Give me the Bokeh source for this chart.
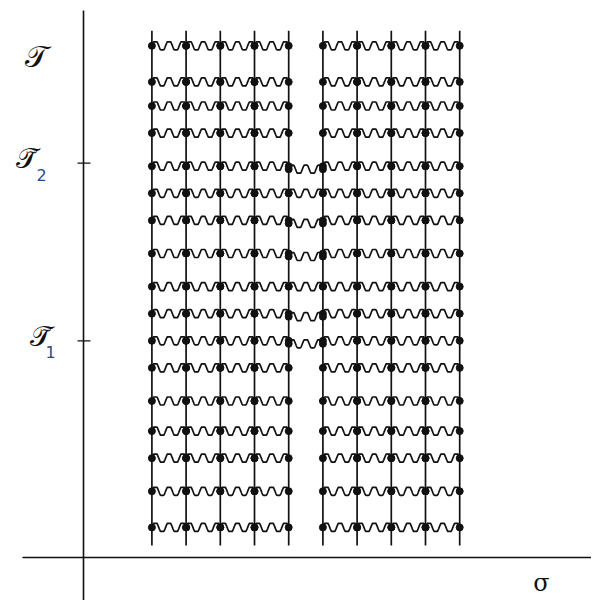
import numpy as np
from bokeh.plotting import figure
from bokeh.models import Range1d
from bokeh.core.properties import value
from bokeh.embed import file_html
from bokeh.resources import INLINE

# ---------------- data ----------------
left_cols = [2, 3, 4, 5, 6]          # sigma positions of the left stack of branes
right_cols = [7, 8, 9, 10, 11]       # sigma positions of the right stack
row_tau = [1.0, 2.2, 3.3, 4.2, 5.2, 6.3, 7.2, 8.1, 9.0, 10.1, 11.2,
           12.1, 13.0, 14.1, 15.0, 15.8, 17.0]   # string rows (tau)
bridge_tau = [7.1, 8.0, 9.0, 10.0, 11.1, 12.1, 12.9]  # strings joining the stacks
tick_tau = [7.2, 13.1]
tick_sub = ["1", "2"]
brane_top = 17.5
brane_bottom = 0.4

# ---------------- layout helpers (pixel <-> data) ----------------
PX_X = 34.2   # px per sigma unit
PX_Y = 30.1   # px per tau unit
X0, Y0 = 83, 557  # pixel position of the origin
def sx(px):
    return (px - X0) / PX_X
def ty(py):
    return (Y0 - py) / PX_Y

W, H = 591, 600
p = figure(width=W, height=H, output_backend="svg", toolbar_location=None,
           x_range=Range1d(sx(0), sx(W)), y_range=Range1d(ty(H), ty(0)),
           min_border=0)
p.axis.visible = False
p.grid.visible = False
p.outline_line_color = None
p.background_fill_color = "white"
p.border_fill_color = "white"

INK = "#111111"

# axes
p.segment(x0=[0], y0=[ty(10)], x1=[0], y1=[ty(620)], line_color=INK, line_width=1.6)
p.segment(x0=[sx(22)], y0=[0], x1=[sx(620)], y1=[0], line_color=INK, line_width=1.6)
p.segment(x0=[sx(77)] * len(tick_tau), y0=tick_tau, x1=[sx(90)] * len(tick_tau),
          y1=tick_tau, line_color=INK, line_width=1.2)

# branes (vertical lines)
cols = left_cols + right_cols
p.segment(x0=cols, y0=[brane_bottom] * len(cols), x1=cols, y1=[brane_top] * len(cols),
          line_color=INK, line_width=1.7)

# wavy strings
u = np.linspace(0, 1, 61)
shape = np.clip(1.4 * np.sin(2 * np.pi * 2.5 * u), -1, 1) * (4.0 / PX_Y)

segs = []
for group in (left_cols, right_cols):
    for t in row_tau:
        for a, b in zip(group[:-1], group[1:]):
            segs.append((a, b, t))
for t in bridge_tau:
    segs.append((left_cols[-1], right_cols[0], t))

xs = [list(a + (b - a) * u) for a, b, t in segs]
ys = [list(t + shape) for a, b, t in segs]
p.multi_line(xs=xs, ys=ys, line_color=INK, line_width=1.7)

# end points
dx, dy = [], []
for a, b, t in segs:
    dx += [a, b]
    dy += [t, t]
p.scatter(x=dx, y=dy, size=7, color=INK)

# labels
p.text(x=[sx(36)], y=[ty(56)], text=["𝒯"], text_font=value("DejaVu Serif"),
       text_font_size="30px", text_align="center", text_baseline="middle", text_color=INK)
p.text(x=[sx(40), sx(26)], y=[ty(336), ty(158)], text=["𝒯̃", "𝒯̃"],
       text_font=value("DejaVu Serif"), text_font_size="28px",
       text_align="center", text_baseline="middle", text_color=INK)
p.text(x=[sx(50), sx(41)], y=[ty(351), ty(174)], text=tick_sub,
       text_font=value("DejaVu Sans"), text_font_size="16px",
       text_align="center", text_baseline="middle", text_color="#2a4a8a")
p.text(x=[sx(541)], y=[ty(582)], text=["σ"], text_font=value("DejaVu Serif"),
       text_font_size="24px", text_align="center", text_baseline="middle", text_color=INK)

open("out.html", "w").write(file_html(p, INLINE))
